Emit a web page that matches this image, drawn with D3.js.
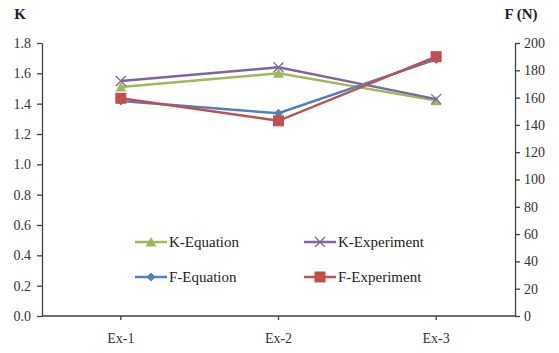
<!DOCTYPE html>
<html lang="en">
    <head>
        <meta charset="utf-8">
        <title>K and F chart</title>
        <script src="https://d3js.org/d3.v7.min.js"></script>
        <style type="text/css">
        body {
            margin: 0;
            background-color: white;
        }
        </style>
    </head>
    <body>
        <svg width="559" height="353" font-family="Liberation Serif, Times New Roman, DejaVu Serif, serif"></svg>
        <script type="text/javascript">

            // data
            const categories = ["Ex-1", "Ex-2", "Ex-3"];
            const kEquation = [1.51, 1.60, 1.42];
            const kExperiment = [1.55, 1.64, 1.43];
            const fEquation = [157.5, 148.5, 188];
            const fExperiment = [159.5, 143, 190];
            const kTicks = [0, 0.2, 0.4, 0.6, 0.8, 1.0, 1.2, 1.4, 1.6, 1.8];
            const fTicks = [0, 20, 40, 60, 80, 100, 120, 140, 160, 180, 200];

            const serif = "Liberation Serif, Times New Roman, DejaVu Serif, serif";
            const svg = d3.select("svg");
            const mLeft = 42, mRight = 515, mTop = 43, mBottom = 316;

            const x = d3.scaleBand().domain(categories).range([mLeft, mRight]);
            const yK = d3.scaleLinear().domain([0, 1.8]).range([mBottom, mTop]);
            const yF = d3.scaleLinear().domain([0, 200]).range([mBottom, mTop]);
            const cx = c => x(c) + x.bandwidth() / 2;

            // axes
            const axisStyle = g => {
                g.attr("font-family", serif).attr("font-size", 14);
                g.selectAll("path, line").attr("stroke", "#404040").attr("stroke-width", 1.3);
                g.selectAll("text").attr("fill", "#333");
            };

            svg.append("g")
                .attr("transform", `translate(${mLeft},0)`)
                .call(d3.axisLeft(yK).tickValues(kTicks).tickFormat(d3.format(".1f")).tickSize(5).tickSizeOuter(0).tickPadding(6))
                .call(axisStyle);

            svg.append("g")
                .attr("transform", `translate(${mRight},0)`)
                .call(d3.axisRight(yF).tickValues(fTicks).tickSize(5).tickSizeOuter(0).tickPadding(4))
                .call(axisStyle);

            const xAxis = svg.append("g")
                .attr("transform", `translate(0,${mBottom})`)
                .call(d3.axisBottom(x).tickSize(4).tickSizeOuter(0).tickPadding(13))
                .call(axisStyle);
            xAxis.select(".domain").attr("d", `M${mLeft},0H${mRight}`);

            // axis titles
            svg.append("text").attr("x", 20).attr("y", 19).attr("text-anchor", "middle")
                .attr("font-size", 15).attr("font-weight", "bold").attr("fill", "#222").text("K");
            svg.append("text").attr("x", 521).attr("y", 19).attr("text-anchor", "middle")
                .attr("font-size", 15).attr("font-weight", "bold").attr("fill", "#222").text("F (N)");

            const series = [
                {name: "K-Equation", values: kEquation, y: yK, color: "#9BBB59", marker: "triangle"},
                {name: "K-Experiment", values: kExperiment, y: yK, color: "#8064A2", marker: "cross"},
                {name: "F-Equation", values: fEquation, y: yF, color: "#4F81BD", marker: "diamond"},
                {name: "F-Experiment", values: fExperiment, y: yF, color: "#C0504D", marker: "square"}
            ];

            function drawMarker(g, type, color) {
                if (type === "triangle") {
                    g.append("path").attr("d", "M0,-5L5.5,4.5L-5.5,4.5Z").attr("fill", color);
                } else if (type === "diamond") {
                    g.append("path").attr("d", "M0,-4.5L4.5,0L0,4.5L-4.5,0Z").attr("fill", color);
                } else if (type === "square") {
                    g.append("rect").attr("x", -5.5).attr("y", -5.5).attr("width", 11).attr("height", 11).attr("fill", color);
                } else {
                    g.append("path").attr("d", "M-5,-5L5,5M-5,5L5,-5").attr("stroke", color).attr("stroke-width", 1.3);
                }
            }

            const line = d3.line();
            series.forEach(s => {
                const pts = categories.map((c, i) => [cx(c), s.y(s.values[i])]);
                svg.append("path").attr("d", line(pts)).attr("fill", "none")
                    .attr("stroke", s.color).attr("stroke-width", 2.5);
                pts.forEach(p => {
                    const g = svg.append("g").attr("transform", `translate(${p[0]},${p[1]})`);
                    drawMarker(g, s.marker, s.color);
                });
            });

            // legend
            const legendPos = [[135, 242], [304, 242], [135, 277], [304, 277]];
            series.forEach((s, i) => {
                const [lx, ly] = legendPos[i];
                const g = svg.append("g").attr("transform", `translate(${lx},${ly})`);
                g.append("line").attr("x1", 0).attr("x2", 32).attr("y1", 0).attr("y2", 0)
                    .attr("stroke", s.color).attr("stroke-width", 2.5);
                drawMarker(g.append("g").attr("transform", "translate(16,0)"), s.marker, s.color);
                g.append("text").attr("x", 34).attr("y", 5).attr("font-size", 15)
                    .attr("fill", "#222").text(s.name);
            });
        </script>
    </body>
</html>
